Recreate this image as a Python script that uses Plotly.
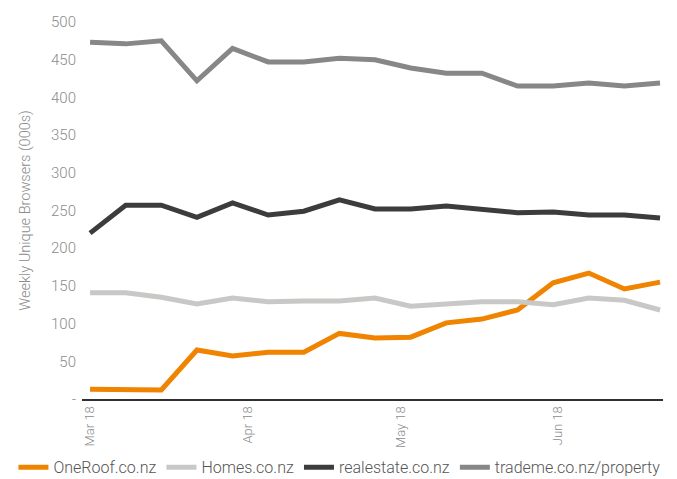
import pandas as pd
import plotly.graph_objs as go

# weekly data, March - June 2018
weeks = pd.date_range("2018-03-01", periods=17, freq="7D")

oneroof = [13, 13, 12, 65, 57, 62, 62, 87, 81, 82, 101, 106, 118, 154, 167, 146, 155]
homes = [141, 141, 135, 126, 134, 129, 130, 130, 134, 123, 126, 129, 129, 125, 134, 131, 118]
realestate = [220, 257, 257, 241, 260, 244, 249, 264, 252, 252, 256, 251, 247, 248, 244, 244, 240]
trademe = [473, 471, 475, 422, 465, 447, 447, 452, 450, 439, 432, 432, 415, 415, 419, 415, 419]

series_names = ["OneRoof.co.nz", "Homes.co.nz", "realestate.co.nz", "trademe.co.nz/property"]
series_values = [oneroof, homes, realestate, trademe]
colors = ["#F08300", "#C8C8C6", "#3C3C3C", "#878787"]

y_ticks = [0, 50, 100, 150, 200, 250, 300, 350, 400, 450, 500]
y_labels = ["-"] + [str(v) for v in y_ticks[1:]]

fig = go.Figure()
for name, vals, col in zip(series_names, series_values, colors):
    fig.add_trace(go.Scatter(
        x=weeks, y=vals, name=name, mode="lines",
        line=dict(color=col, width=5),
    ))

fig.update_layout(
    width=677, height=479,
    margin=dict(l=74, r=22, t=14, b=88, autoexpand=False),
    plot_bgcolor="white", paper_bgcolor="white",
    font=dict(family="Roboto", size=15, color="#8c8c8c", weight=300),
    showlegend=True,
    legend=dict(
        orientation="h", x=-0.118, xanchor="left", y=-0.181, yanchor="middle",
        font=dict(size=16, color="#555555"),
        tracegroupgap=0, itemwidth=30,
    ),
    xaxis=dict(
        range=[pd.Timestamp("2018-02-27 10:00"), pd.Timestamp("2018-06-21 14:00")],
        tickvals=pd.to_datetime(["2018-03-01", "2018-04-01", "2018-05-01", "2018-06-01"]),
        tickformat="%b %y", tickangle=-90,
        showgrid=False, zeroline=False, automargin=False,
        showline=True, linecolor="#2f3033", linewidth=2,
        ticks="", tickfont=dict(size=13),
    ),
    yaxis=dict(
        range=[0, 500], tickvals=y_ticks, ticktext=y_labels,
        showgrid=False, zeroline=False, showline=False, ticks="", automargin=False,
        ticklabelstandoff=5,
        title=dict(text="Weekly Unique Browsers (000s)", font=dict(size=14.5), standoff=16),
    ),
)

fig.write_html("out.html")
